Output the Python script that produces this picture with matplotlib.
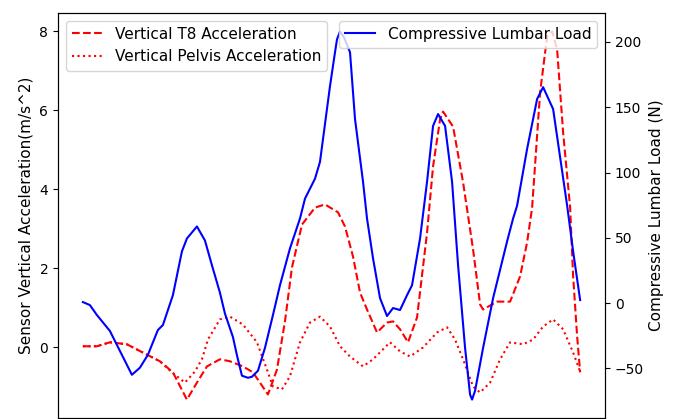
import matplotlib
matplotlib.use("Agg")
import matplotlib.pyplot as plt

plt.rcParams['font.size'] = 11
plt.rcParams['xtick.labelsize'] = 10
plt.rcParams['ytick.labelsize'] = 10

# Time axis (s) and series
t_load = [0.00, 0.14, 0.28, 0.54, 0.98, 1.14, 1.30, 1.50, 1.60, 1.80, 1.98, 2.08, 2.28,
          2.44, 2.58, 2.74, 2.84, 3.00, 3.08, 3.18, 3.30, 3.38, 3.50, 3.64, 3.80, 3.94,
          4.14, 4.34, 4.44, 4.64, 4.74, 4.94, 5.04, 5.08, 5.14, 5.22, 5.34, 5.44, 5.60,
          5.68, 5.80, 5.94, 6.08, 6.20, 6.34, 6.48, 6.58, 6.74, 6.88, 7.00, 7.10, 7.24,
          7.38, 7.50, 7.64, 7.74, 7.78, 7.84, 8.00, 8.20, 8.48, 8.60, 8.68, 8.88, 9.08,
          9.20, 9.40, 9.68, 9.80, 9.94]
lumbar_load = [0.8, -1.5, -9.1, -21.3, -54.9, -49.5, -39.6, -20.6, -16.8, 6.1, 39.6, 49.5, 58.7,
               48.0, 29.0, 8.0, -8.0, -26.0, -40.0, -55.6, -57.2, -56.4, -51.8, -34.3, -9.1, 13.7,
               41.9, 64.8, 80.0, 95.3, 108.2, 166.2, 192.1, 202.0, 208.1, 203.5, 192.1, 141.0, 93.0,
               64.8, 34.3, 3.8, -9.9, -3.8, -5.3, 6.1, 13.7, 49.5, 93.0, 135.7, 144.8, 135.7,
               93.0, 29.0, -34.3, -70.1, -73.9, -67.1, -34.3, 3.8, 47.3, 64.8, 74.7, 118.1, 156.3,
               165.4, 148.6, 74.7, 39.6, 2.3]

t_t8 = [0.00, 0.28, 0.54, 0.88, 1.20, 1.54, 1.80, 2.08, 2.28, 2.48, 2.74, 2.94, 3.20, 3.40,
        3.70, 3.88, 4.04, 4.18, 4.38, 4.64, 4.84, 5.10, 5.24, 5.40, 5.54, 5.68, 5.88, 6.08,
        6.20, 6.34, 6.50, 6.68, 6.88, 7.00, 7.14, 7.20, 7.40, 7.60, 7.80, 7.94, 8.00, 8.28,
        8.54, 8.74, 8.88, 8.98, 9.14, 9.28, 9.38, 9.48, 9.60, 9.74, 9.80, 9.88, 9.94]
t8_acc = [0.03, 0.03, 0.13, 0.08, -0.13, -0.35, -0.63, -1.32, -0.89, -0.48, -0.30, -0.35, -0.48, -0.63,
          -1.19, -0.56, 0.66, 2.03, 3.11, 3.54, 3.62, 3.42, 3.06, 2.30, 1.39, 0.96, 0.38, 0.63,
          0.66, 0.46, 0.13, 0.76, 2.91, 4.58, 5.77, 5.97, 5.59, 4.18, 2.48, 1.09, 0.96, 1.16,
          1.16, 1.80, 2.66, 3.54, 6.46, 7.87, 8.00, 7.54, 5.44, 3.54, 1.80, 0.28, -0.63]

t_pelvis = [0.00, 0.28, 0.54, 0.88, 1.20, 1.54, 1.78, 2.04, 2.24, 2.38, 2.50, 2.74, 2.94, 3.20,
            3.48, 3.68, 3.80, 3.98, 4.14, 4.34, 4.54, 4.74, 4.94, 5.14, 5.34, 5.60, 5.80, 6.14,
            6.34, 6.54, 6.80, 7.08, 7.28, 7.44, 7.60, 7.80, 7.94, 8.14, 8.34, 8.54, 8.80, 9.00,
            9.20, 9.40, 9.60, 9.80, 9.94]
pelvis_acc = [0.03, 0.03, 0.13, 0.08, -0.13, -0.35, -0.63, -0.89, -0.61, -0.30, 0.20, 0.71, 0.78, 0.58,
              0.13, -0.56, -0.99, -1.06, -0.73, 0.13, 0.63, 0.78, 0.53, 0.03, -0.23, -0.48, -0.30, 0.13,
              -0.10, -0.23, 0.00, 0.38, 0.51, 0.20, -0.30, -0.99, -1.14, -0.89, -0.30, 0.13, 0.08, 0.20,
              0.53, 0.71, 0.46, -0.13, -0.61]

fig = plt.figure(figsize=(6.79, 4.19), dpi=100)
ax1 = fig.add_axes([58 / 679, 1 / 419, 547 / 679, 405 / 419])
ax2 = ax1.twinx()

ax1.plot(t_t8, t8_acc, color='red', linestyle='--', label='Vertical T8 Acceleration')
ax1.plot(t_pelvis, pelvis_acc, color='red', linestyle=':', label='Vertical Pelvis Acceleration')
ax2.plot(t_load, lumbar_load, color='blue', linestyle='-', label='Compressive Lumbar Load')

ax1.set_ylabel('Sensor Vertical Acceleration(m/s^2)')
ax2.set_ylabel('Compressive Lumbar Load (N)')
# x-axis tick labels fall below the visible area of the reference
ax1.tick_params(axis='x', labelbottom=False, bottom=False)

ax1.legend(loc='upper left')
ax2.legend(loc='upper right')

fig.savefig('out.png', dpi=100)
